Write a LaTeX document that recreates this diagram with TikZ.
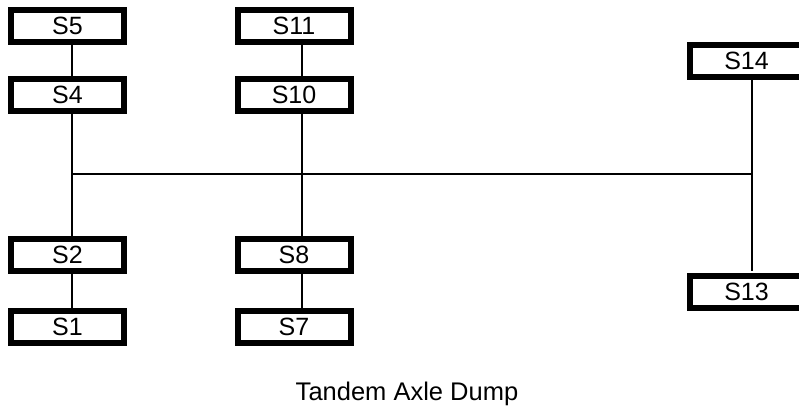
\documentclass[tikz,border=0pt]{standalone}
\usepackage{fontspec}
\setmainfont{Liberation Sans}
\begin{document}
\begin{tikzpicture}[x=1pt,y=-1pt,
  sbox/.style={draw=black,line width=6pt,fill=white,inner sep=0pt,
    minimum width=113pt,minimum height=32pt,
    font=\fontsize{25pt}{30pt}\selectfont},
  link/.style={draw=black,line width=1.5pt},
  title/.style={font=\fontsize{25.5pt}{30pt}\selectfont,inner sep=0pt,anchor=base}]
\useasboundingbox[fill=white] (0,0) rectangle (799,408);
% line positions
\coordinate (l1) at (72,0);
\coordinate (l2) at (302,0);
\coordinate (l3) at (752,0);
\coordinate (h1) at (72,174);
\coordinate (h3) at (752,174);
% connectors
\draw[link] (h1) -- (h3);
\draw[link] (72,45) coordinate (c1a) -- (72,76) coordinate (c1b);
\draw[link] (72,114) coordinate (c2a) -- (72,236) coordinate (c2b);
\draw[link] (72,274) coordinate (c3a) -- (72,308) coordinate (c3b);
\draw[link] (302,45) coordinate (c4a) -- (302,76) coordinate (c4b);
\draw[link] (302,114) coordinate (c5a) -- (302,236) coordinate (c5b);
\draw[link] (302,274) coordinate (c6a) -- (302,308) coordinate (c6b);
\draw[link] (752,80) coordinate (c7a) -- (752,271) coordinate (c7b);
% boxes
\node[sbox] (s5)  at (67.5,26)  {S5};
\node[sbox] (s4)  at (67.5,95)  {S4};
\node[sbox] (s2)  at (67.5,255) {S2};
\node[sbox] (s1)  at (67.5,327) {S1};
\node[sbox] (s11) at (294,26)   {S11};
\node[sbox] (s10) at (294,95)   {S10};
\node[sbox] (s8)  at (294,255)  {S8};
\node[sbox] (s7)  at (294,327)  {S7};
\node[sbox] (s14) at (746.5,61) {S14};
\node[sbox] (s13) at (746.5,292) {S13};
\node[title] (t) at (407,400) {Tandem Axle Dump};
\end{tikzpicture}
\end{document}
